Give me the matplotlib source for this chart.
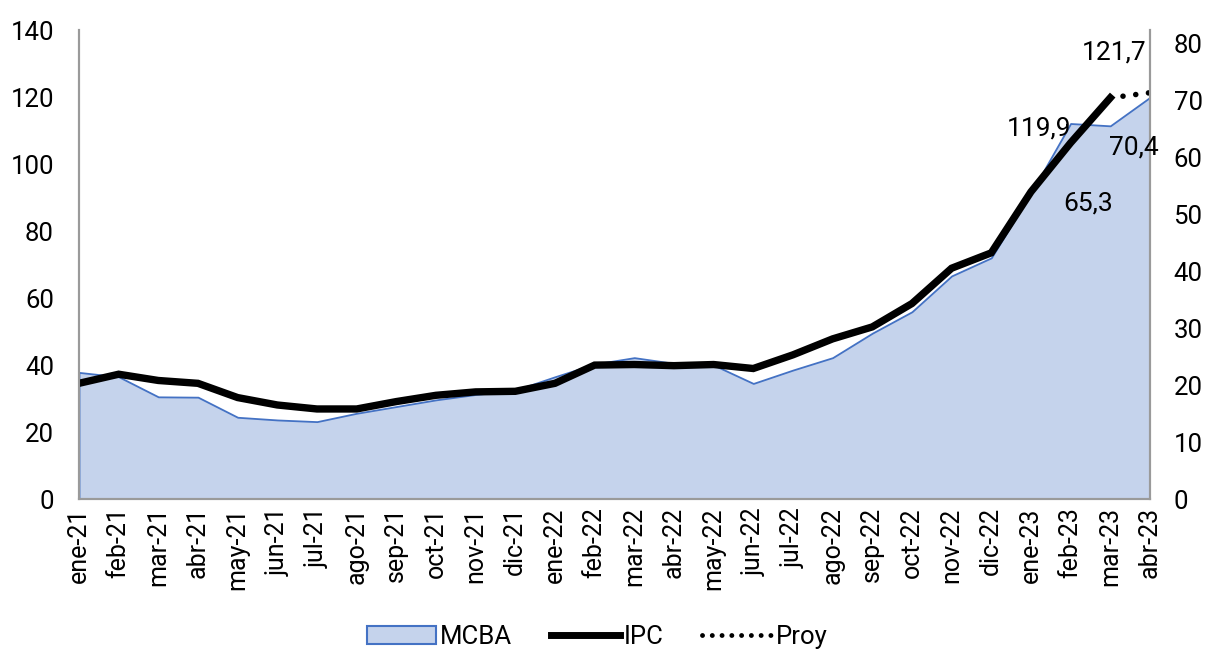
import matplotlib
matplotlib.use("Agg")
import matplotlib.pyplot as plt
from matplotlib.patches import Patch
from matplotlib.lines import Line2D

# --- data ---
meses = ["ene-21", "feb-21", "mar-21", "abr-21", "may-21", "jun-21", "jul-21",
         "ago-21", "sep-21", "oct-21", "nov-21", "dic-21",
         "ene-22", "feb-22", "mar-22", "abr-22", "may-22", "jun-22", "jul-22",
         "ago-22", "sep-22", "oct-22", "nov-22", "dic-22",
         "ene-23", "feb-23", "mar-23", "abr-23"]

# MCBA (eje izquierdo)
mcba = [37.8, 36.5, 30.5, 30.4, 24.4, 23.6, 23.1, 25.6, 27.6, 29.6, 31.2, 32.5,
        36.5, 40.3, 42.2, 40.5, 40.0, 34.5, 38.5, 42.2, 49.5, 55.9, 66.6, 72.0,
        91.3, 112.1, 111.4, 119.9]

# IPC (eje derecho)
ipc = [20.3, 21.9, 20.8, 20.3, 17.8, 16.5, 15.8, 15.8, 17.1, 18.2, 18.8, 18.9,
       20.3, 23.5, 23.6, 23.4, 23.6, 22.9, 25.3, 28.1, 30.2, 34.3, 40.5, 43.2,
       53.9, 62.5, 70.4]

# proyeccion (mar-23 -> abr-23)
proy_idx = [26, 27]
proy = [70.4, 71.3]

# etiquetas sueltas (x en indice de mes, y en eje derecho)
etiquetas = [("121,7", 26.1, 78.4), ("119,9", 24.2, 65.1),
             ("70,4", 26.6, 61.6), ("65,3", 25.45, 51.9)]

# --- style ---
plt.rcParams['font.family'] = ['Roboto', 'DejaVu Sans']
FILL = '#C5D3EC'
EDGE = '#4472C4'
SPINE = '#9A9A9A'
NARROW = ['Liberation Sans Narrow', 'Roboto']

fig = plt.figure(figsize=(12.06, 6.5), dpi=100)
ax = fig.add_axes([0.0655, 0.2323, 0.888, 0.7215])
ax2 = ax.twinx()

x = list(range(len(meses)))
ax.fill_between(x, mcba, 0, facecolor=FILL, edgecolor=EDGE, linewidth=1.3)
ax.set_xlim(0, len(meses) - 1)
ax.set_ylim(0, 140)
ax.set_yticks(range(0, 141, 20))

ax2.plot(x[:len(ipc)], ipc, color='black', linewidth=5.3, solid_joinstyle='miter')
ax2.plot(proy_idx, proy, color='black', linewidth=4,
         linestyle=(0, (0.01, 2.3)), dash_capstyle='round')
ax2.set_ylim(0, 82.3)
ax2.set_yticks(range(0, 81, 10))

for txt, xi, yi in etiquetas:
    ax2.text(xi, yi, txt, ha='center', va='center', fontsize=19)

ax.set_xticks(x)
ax.set_xticklabels(meses, rotation=90, fontsize=18, family=NARROW)
ax.tick_params(axis='x', length=0, pad=6)
ax.tick_params(axis='y', length=0, labelsize=18.5, pad=18)
ax2.tick_params(axis='y', length=0, labelsize=18.5, pad=17)

for a in (ax, ax2):
    a.spines['top'].set_visible(False)
    for s in ('left', 'right', 'bottom'):
        a.spines[s].set_color(SPINE)
        a.spines[s].set_linewidth(1.5)

handles = [Patch(facecolor=FILL, edgecolor=EDGE, linewidth=1.5),
           Line2D([], [], color='black', linewidth=5),
           Line2D([], [], color='black', linewidth=3.5,
                  linestyle=(0, (0.01, 2.0)), dash_capstyle='round')]
fig.legend(handles, ["MCBA", "IPC", "Proy"], loc='center',
           bbox_to_anchor=(0.495, 0.02), ncol=3, frameon=False,
           handlelength=2.7, handletextpad=0.15, columnspacing=1.5,
           prop={'family': NARROW, 'size': 18.5})

fig.savefig("out.png", dpi=100)
